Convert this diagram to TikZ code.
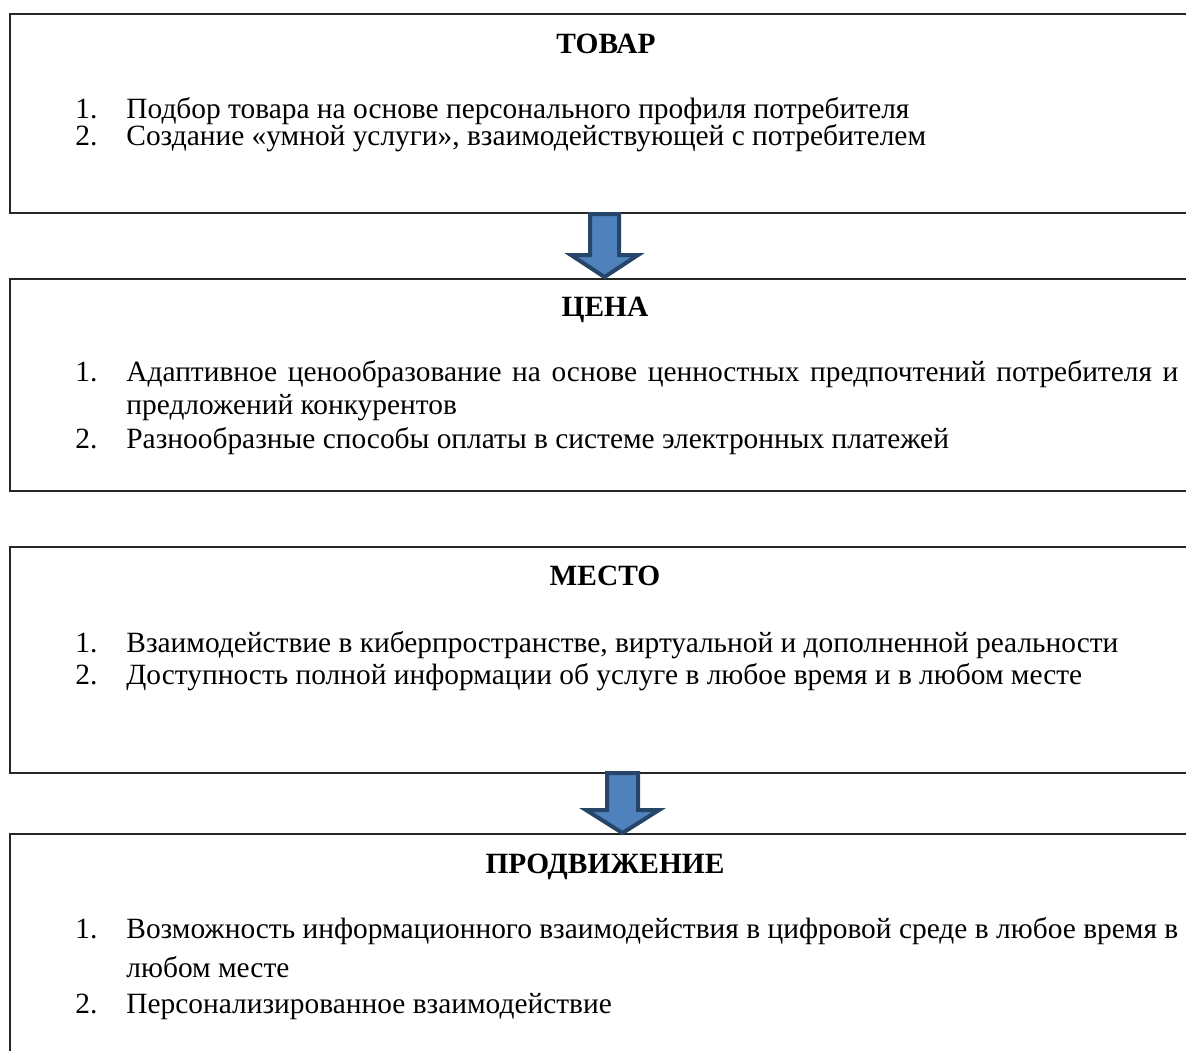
\documentclass[tikz,border=0pt]{standalone}
\usepackage{fontspec}
\setmainfont{Liberation Serif}
\definecolor{arrowfill}{HTML}{4F81BD}
\definecolor{arrowedge}{HTML}{274569}
\begin{document}
\begin{tikzpicture}[x=0.5pt,y=-0.5pt]
                \tikzset{every node/.style={font=\fontsize{14.7}{17}\selectfont, inner sep=0pt},
                    headtext/.style={font=\fontsize{14.7}{17}\selectfont\bfseries, anchor=base},
                    numtext/.style={anchor=base west},
                    itemtext/.style={anchor=base west},
                    panel/.style={draw=black!85, line width=1pt},
                    blockarrow/.style={fill=arrowfill, draw=arrowedge, line width=2pt, line join=miter}}
                \useasboundingbox (0,0) rectangle (1186,1050);
                \clip (0,0) rectangle (1186,1050);
                % panels
                \draw[panel] (10,14) rectangle (1200,213);
                \draw[panel] (10,279) rectangle (1200,491);
                \draw[panel] (10,547) rectangle (1200,773);
                \draw[panel] (10,834) rectangle (1200,1080);
                % product
                \node[headtext] (tovar) at (606,53) {ТОВАР};
                \node[numtext] (tovarN1) at (75,118) {1.};
                \node[itemtext] (tovarA) at (126,118) {Подбор товара на основе персонального профиля потребителя};
                \node[numtext] (tovarN2) at (75,145) {2.};
                \node[itemtext] (tovarB) at (126,145) {Создание «умной услуги», взаимодействующей с потребителем};
                % price
                \node[headtext] (cena) at (605,316) {ЦЕНА};
                \node[numtext] (cenaN1) at (75,381) {1.};
                \node[itemtext] (cenaA) at (126,381) {\makebox[526pt][s]{Адаптивное ценообразование на основе ценностных предпочтений потребителя и}};
                \node[itemtext] (cenaA2) at (126,414) {предложений конкурентов};
                \node[numtext] (cenaN2) at (75,448) {2.};
                \node[itemtext] (cenaB) at (126,448) {Разнообразные способы оплаты в системе электронных платежей};
                % place
                \node[headtext] (mesto) at (605,585) {МЕСТО};
                \node[numtext] (mestoN1) at (75,652) {1.};
                \node[itemtext] (mestoA) at (126,652) {Взаимодействие в киберпространстве, виртуальной и дополненной реальности};
                \node[numtext] (mestoN2) at (75,684) {2.};
                \node[itemtext] (mestoB) at (126,684) {Доступность полной информации об услуге в любое время и в любом месте};
                % promotion
                \node[headtext] (prod) at (605,873) {ПРОДВИЖЕНИЕ};
                \node[numtext] (prodN1) at (75,938) {1.};
                \node[itemtext] (prodA) at (126,938) {\makebox[526pt][s]{Возможность информационного взаимодействия в цифровой среде в любое время в}};
                \node[itemtext] (prodA2) at (126,977) {любом месте};
                \node[numtext] (prodN2) at (75,1013) {2.};
                \node[itemtext] (prodB) at (126,1013) {Персонализированное взаимодействие};
                % arrows
                \coordinate (arrowA) at (604.5,214);
                \coordinate (arrowB) at (622.5,773);
                \draw[blockarrow] (arrowA) ++(-14.5,0) -- ++(29,0) -- ++(0,41) -- ++(19,0)
                    -- ++(-33.5,22) -- ++(-33.5,-22) -- ++(19,0) -- cycle;
                \draw[blockarrow] (arrowB) ++(-15.5,0) -- ++(31,0) -- ++(0,37) -- ++(21,0)
                    -- ++(-36.5,23) -- ++(-36.5,-23) -- ++(21,0) -- cycle;
\end{tikzpicture}
\end{document}
